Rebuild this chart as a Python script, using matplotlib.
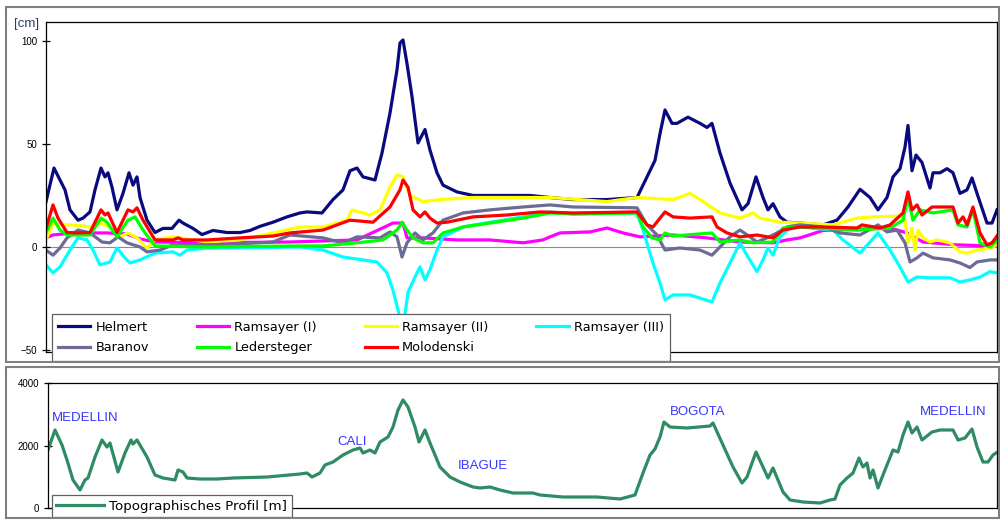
import matplotlib.pyplot as plt
from matplotlib.patches import Rectangle

# profile position (arbitrary units along the route), value [cm]
helmert = [(0, 22), (8, 38.3), (14, 32.5), (19, 27.7), (24, 18), (32, 13), (37, 14), (44, 17),
           (49, 27.7), (55, 38.3), (59, 34), (62, 36), (66, 29), (71, 18), (77, 26), (83, 36),
           (87, 30), (91, 34), (94, 24), (101, 13), (109, 7), (117, 9), (126, 9), (133, 13),
           (137, 11.6), (147, 9), (156, 6), (167, 8), (181, 7), (194, 7), (204, 8), (214, 10),
           (227, 12), (241, 14.6), (254, 16.5), (261, 17), (276, 16.5), (287, 23), (297, 27.7),
           (304, 37), (311, 38.3), (317, 34), (329, 32.5), (336, 45.6), (344, 65), (351, 86),
           (354, 99), (357, 100.5), (361, 89), (366, 73), (372, 50.5), (379, 57), (384, 47),
           (391, 36), (397, 30), (411, 26.7), (427, 25), (461, 25), (484, 25), (504, 24),
           (527, 23), (561, 23), (591, 24), (601, 34), (609, 42), (614, 55), (619, 66.5),
           (626, 60), (631, 60), (642, 63), (654, 60), (661, 58), (666, 60), (674, 45.6),
           (684, 31), (696, 18), (702, 21), (710, 34), (717, 24), (722, 18), (727, 21),
           (734, 14.6), (741, 12), (754, 11.6), (777, 10.7), (791, 13), (802, 19.4), (814, 28),
           (824, 24), (832, 18), (841, 24), (847, 34), (854, 38), (859, 48.5), (862, 59),
           (866, 37), (870, 44.6), (876, 41), (884, 28.6), (887, 36), (894, 36), (901, 38),
           (907, 36), (914, 26), (921, 27.7), (926, 33.5), (931, 26), (941, 11.6), (946, 11.6),
           (951, 18)]
ramsayer_1 = [(0, 4.4), (7, 5.8), (27, 6.8), (61, 6.8), (81, 6.3), (94, 3.9), (109, 2.4),
              (161, 2), (244, 2.4), (311, 3.4), (347, 11.6), (357, 11.6), (361, 4.4), (377, 4.4),
              (411, 3.4), (444, 3.4), (477, 2), (497, 3.4), (504, 4.9), (514, 6.8), (544, 7.3),
              (561, 9.2), (577, 6.8), (594, 4.9), (627, 5.8), (661, 4.4), (694, 2.4), (727, 2),
              (741, 3.4), (754, 4.4), (777, 8), (844, 9.2), (861, 6.8), (877, 2.4), (911, 1),
              (944, 0.5), (951, 1)]
ramsayer_2 = [(0, 3.4), (7, 11.6), (14, 10.7), (27, 10.7), (44, 9.7), (54, 11.6), (64, 9.7),
              (74, 4.9), (82, 6.8), (91, 4.4), (101, -0.5), (109, 3.4), (127, 4.9), (134, 4.4),
              (161, 2.4), (194, 3.4), (227, 6.8), (254, 9.7), (277, 9.7), (301, 13), (306, 18),
              (324, 15.5), (334, 18), (344, 29), (351, 35), (357, 34), (364, 25), (377, 22),
              (394, 23), (427, 24), (504, 24), (561, 22), (591, 24), (627, 23), (644, 26),
              (654, 23), (674, 16.5), (694, 14), (707, 16.5), (714, 14), (734, 12), (754, 11.6),
              (787, 10.7), (811, 14), (827, 14.6), (854, 15), (859, 13), (862, 2), (866, 9.2),
              (869, -1.5), (872, 8.2), (877, 4.4), (884, 2.4), (891, 3.4), (904, 2), (914, -2.4),
              (921, -3), (931, -1.5), (944, -0.5), (951, 1)]
ramsayer_3 = [(0, -8.7), (7, -12.6), (14, -9.7), (24, -1.5), (32, 4.4), (41, 3.4), (47, -1.5),
              (54, -8.7), (64, -7.3), (71, -0.5), (79, -5.3), (84, -7.8), (94, -6.3), (109, -3),
              (127, -2.4), (134, -4), (141, -1.5), (161, -0.5), (194, -0.5), (254, 0), (277, -1.5),
              (297, -4.9), (317, -6.3), (331, -7.3), (341, -12.6), (347, -21), (352, -30.6),
              (357, -40), (362, -22), (369, -14.6), (374, -9.7), (379, -16), (384, -11),
              (391, -1.5), (397, 4.9), (417, 9.7), (444, 12), (477, 14.6), (504, 17), (527, 16),
              (591, 16.5), (597, 8.2), (607, -7.8), (614, -17.5), (619, -25.7), (627, -23.3),
              (644, -23.3), (666, -26.7), (674, -17.5), (684, -7.8), (694, 2), (702, -4.9),
              (711, -12), (717, -6.3), (722, -0.5), (727, -4), (734, 4.9), (744, 9.2),
              (754, 9.7), (787, 8.2), (797, 3.4), (814, -3), (824, 2.4), (832, 6.8), (844, -1.5),
              (854, -9.7), (862, -17), (871, -14.6), (884, -15), (904, -15), (914, -17),
              (924, -16), (934, -14.6), (944, -12), (951, -12.6)]
baranov = [(0, -1.5), (7, -4), (14, -0.5), (21, 4.4), (32, 8.2), (44, 6.8), (56, 2.4), (64, 2),
           (72, 4.9), (81, 2), (94, 0), (101, -2.4), (114, -1.5), (127, 1), (161, 1), (194, 1.5),
           (227, 2.4), (244, 5.8), (277, 4.4), (297, 2), (311, 4.9), (334, 4.4), (344, 7.3),
           (351, 4.9), (356, -4.9), (361, 2), (369, 6.8), (377, 3.4), (387, 6.8), (397, 13),
           (417, 16.5), (444, 18), (477, 19.4), (504, 20.4), (527, 19.4), (591, 19), (601, 10.7),
           (611, 5.8), (619, -1.5), (634, -0.5), (654, -1.5), (666, -4), (674, 0), (684, 4.9),
           (694, 8.2), (704, 4.9), (711, 2.4), (721, 4.4), (731, 6.8), (741, 9.7), (754, 10.7),
           (777, 9.7), (794, 6.8), (814, 5.8), (832, 10.7), (841, 7.3), (851, 8.2), (859, 2),
           (864, -7.3), (871, -5.3), (877, -3), (887, -5.3), (904, -6.3), (914, -7.8),
           (924, -10), (931, -7.3), (944, -6.3), (951, -6.3)]
ledersteger = [(0, 7), (7, 14), (14, 8.2), (21, 5.8), (44, 5.8), (55, 14), (61, 12), (71, 4.9),
               (82, 13), (89, 14.6), (97, 8.2), (109, 0.5), (161, 0), (254, 0.5), (277, 0.5),
               (311, 2), (337, 3.4), (351, 8.2), (356, 12), (361, 8.2), (367, 4.4), (377, 2),
               (387, 2), (397, 6.8), (417, 9.7), (444, 11.6), (477, 14), (504, 16.5), (527, 16),
               (591, 16.5), (597, 9.7), (606, 4.4), (614, 3.4), (619, 6.8), (627, 5.3),
               (666, 6.8), (674, 2.4), (694, 3.4), (707, 2), (727, 2.4), (737, 9.2), (754, 9.7),
               (811, 8.2), (844, 9.2), (857, 13), (862, 23.8), (867, 13), (874, 18), (887, 16.5),
               (907, 18), (912, 10.7), (921, 9.7), (927, 18), (934, 2), (944, 0), (951, 3.4)]
molodenski = [(0, 9), (7, 20.4), (12, 14), (21, 7), (31, 6.8), (44, 7), (55, 18), (59, 15.5),
              (62, 16.5), (71, 7), (82, 18), (87, 17), (91, 19), (97, 13), (109, 3.4), (127, 3.4),
              (132, 4.4), (137, 3.4), (161, 3.4), (194, 4.4), (227, 5.3), (244, 6.8), (277, 8.2),
              (304, 13), (327, 12), (344, 19.4), (354, 27.7), (357, 32.5), (362, 29), (367, 18),
              (374, 14.6), (379, 17), (384, 14), (391, 11.6), (401, 12), (427, 14.6), (461, 15.5),
              (494, 17), (527, 16.5), (591, 17), (601, 10.7), (607, 9.7), (619, 17), (627, 14.6),
              (644, 14), (666, 14.6), (671, 9.7), (681, 6.8), (694, 4.9), (711, 5.8), (727, 4.4),
              (737, 8.2), (754, 9.7), (777, 9.7), (811, 9.2), (816, 10.7), (834, 9.2),
              (844, 10.7), (857, 16.5), (862, 26.7), (866, 18), (871, 20.4), (876, 15.5),
              (886, 19.4), (907, 19.4), (912, 11.6), (917, 14.6), (921, 10.7), (927, 19.4),
              (934, 6.8), (941, 1), (946, 2), (951, 5.3)]

names = ["Helmert", "Ramsayer (I)", "Ramsayer (II)", "Ramsayer (III)",
         "Baranov", "Ledersteger", "Molodenski"]
series = [helmert, ramsayer_1, ramsayer_2, ramsayer_3, baranov, ledersteger, molodenski]
colors = ["#0a0a80", "#ff00ff", "#ffff00", "#00ffff", "#6b6b96", "#00ff00", "#ff0000"]

# topographic profile [m]
topo = [(0, 1856), (7, 2496), (14, 2016), (19, 1536), (25, 896), (32, 576), (37, 896), (40, 960),
        (47, 1632), (54, 2176), (59, 1952), (62, 2080), (70, 1152), (77, 1760), (83, 2176),
        (85, 2048), (89, 2176), (99, 1632), (107, 1056), (115, 960), (127, 896), (130, 1216),
        (135, 1152), (139, 960), (152, 928), (169, 928), (185, 960), (219, 992), (252, 1088),
        (259, 1120), (264, 992), (272, 1120), (277, 1376), (285, 1472), (295, 1696), (305, 1856),
        (312, 1920), (315, 1760), (322, 1856), (327, 1760), (332, 2112), (340, 2272), (345, 2592),
        (350, 3136), (355, 3456), (360, 3232), (367, 2592), (371, 2112), (377, 2496), (382, 2080),
        (392, 1312), (402, 992), (412, 832), (425, 672), (432, 640), (442, 672), (452, 576),
        (465, 480), (485, 480), (492, 416), (515, 352), (549, 352), (572, 288), (587, 416),
        (595, 1120), (602, 1696), (607, 1888), (612, 2272), (616, 2752), (622, 2592), (639, 2560),
        (662, 2624), (665, 2720), (675, 2016), (685, 1312), (694, 800), (699, 992), (708, 1792),
        (715, 1312), (720, 960), (725, 1280), (735, 512), (742, 256), (755, 192), (772, 160),
        (782, 256), (787, 288), (792, 736), (799, 960), (805, 1120), (811, 1600), (815, 1312),
        (819, 1440), (822, 960), (825, 1216), (830, 640), (835, 1056), (845, 1856), (850, 1792),
        (855, 2336), (860, 2752), (864, 2400), (869, 2592), (874, 2176), (884, 2432), (892, 2496),
        (905, 2496), (910, 2176), (917, 2240), (924, 2528), (929, 1952), (935, 1472), (940, 1472),
        (945, 1696), (948, 1760)]

cities = ["MEDELLIN", "CALI", "IBAGUE", "BOGOTA", "MEDELLIN"]
city_x = [4, 289, 410, 622, 872]
city_y = [2880, 2112, 1344, 3072, 3072]

fig = plt.figure(figsize=(10, 5.2), dpi=100)

# grey panel frames
for y0, h in [(1 - 362 / 520, 355 / 520), (0.004, 1 - 367 / 520 - 0.004)]:
    fig.patches.append(Rectangle((0.006, y0), 0.993, h, transform=fig.transFigure,
                                 fill=False, edgecolor="#7f7f7f", linewidth=1.5))

ax1 = fig.add_axes([46 / 1000, 1 - 352 / 520, 951 / 1000, 330 / 520])
ax1.axhline(0, color="#8c8c8c", linewidth=0.8, zorder=1)
for data, name, c in zip(series, names, colors):
    xs, ys = zip(*data)
    ax1.plot(xs, ys, color=c, linewidth=2.3, label=name, solid_joinstyle="round")
ax1.set_xlim(0, 951)
ax1.set_ylim(-51, 109.2)
ax1.set_yticks([-50, 0, 50, 100])
ax1.set_xticks([])
ax1.tick_params(axis="y", direction="inout", length=6, width=0.9, labelsize=7)
for s in ax1.spines.values():
    s.set_linewidth(0.9)
fig.text(0.014, 1 - 24 / 520, "[cm]", fontsize=9.5, color="#2a3a6a", va="center",
         family="Liberation Sans")

h, l = ax1.get_legend_handles_labels()
order = [0, 4, 1, 5, 2, 6, 3]
leg = ax1.legend([h[i] for i in order], [l[i] for i in order], ncol=4,
                 loc="lower left", bbox_to_anchor=(0.006, -0.027), borderaxespad=0,
                 fontsize=9.3, handlelength=2.5, handletextpad=0.4, columnspacing=3.7,
                 labelspacing=0.6, borderpad=0.5, fancybox=False, framealpha=1,
                 edgecolor="#606060")
leg.get_frame().set_linewidth(0.9)

ax2 = fig.add_axes([48 / 1000, 1 - 508 / 520, 949 / 1000, 125 / 520])
tx, ty = zip(*topo)
ax2.plot(tx, ty, color="#2e8b63", linewidth=2.3, label="Topographisches Profil [m]",
         solid_joinstyle="round")
for name, cx, cy in zip(cities, city_x, city_y):
    ax2.text(cx, cy, name, color="#3535ff", fontsize=9.5, va="center", ha="left",
             family="Liberation Sans")
ax2.set_xlim(0, 949)
ax2.set_ylim(0, 4000)
ax2.set_yticks([0, 2000, 4000])
ax2.set_xticks([])
ax2.tick_params(axis="y", direction="inout", length=6, width=0.9, labelsize=7)
for s in ax2.spines.values():
    s.set_linewidth(0.9)
leg2 = ax2.legend(loc="lower left", bbox_to_anchor=(0.004, -0.075), borderaxespad=0,
                  fontsize=9.6, handlelength=3.6, handletextpad=0.35, borderpad=0.35,
                  fancybox=False, framealpha=1, edgecolor="#606060")
leg2.get_frame().set_linewidth(0.9)

for t in ax1.get_yticklabels() + ax2.get_yticklabels():
    t.set_family("Liberation Sans")

fig.savefig("out.png", dpi=100, facecolor="white")
